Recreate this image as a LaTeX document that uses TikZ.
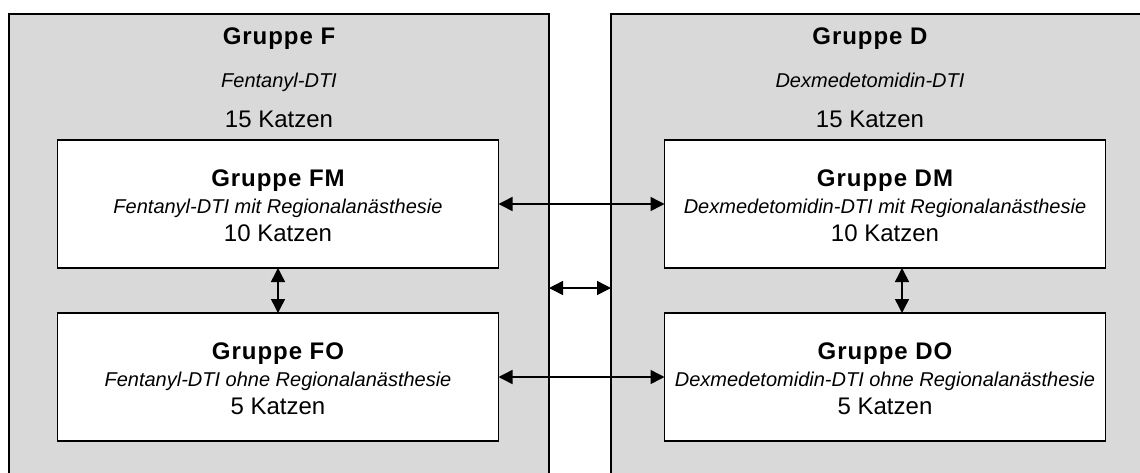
\documentclass[tikz,border=0pt]{standalone}
\usepackage{fontspec}
\setmainfont{Liberation Sans}
\usetikzlibrary{arrows.meta}
\definecolor{boxgray}{HTML}{D9D9D9}

\begin{document}
\begin{tikzpicture}[x=1pt, y=-1pt,
every node/.style={inner sep=0pt, outer sep=0pt},
gruppe/.style={draw=black, line width=1.6pt, fill=boxgray,
    minimum width=540pt, minimum height=466pt},
teil/.style={draw=black, line width=1.6pt, fill=white,
    minimum width=441pt, minimum height=128pt},
titel/.style={anchor=base,
    font=\fontsize{24}{27}\selectfont\bfseries\addfontfeatures{LetterSpace=4}},
info/.style={anchor=base, font=\fontsize{20}{23}\selectfont\itshape},
anzahl/.style={anchor=base, font=\fontsize{24}{28}\selectfont},
pfeil/.style={{Triangle[length=14pt,width=14pt]}-{Triangle[length=14pt,width=14pt]},
    line width=1.5pt}
]
\clip (0,0) rectangle (1140,472);
\fill[white] (0,0) rectangle (1140,472);

% outer groups
\node[gruppe] (gF) at (279,247) {};
\node[gruppe] (gD) at (881,247) {};
\coordinate (gFtxt) at (279,14);
\coordinate (gDtxt) at (870,14);

\node[titel]  (gFname) at ([yshift=-30pt]gFtxt) {Gruppe F};
\node[info]   (gFinfo) at ([yshift=-73pt]gFtxt) {Fentanyl-DTI};
\node[anzahl] (gFzahl) at ([yshift=-113pt]gFtxt) {15 Katzen};

\node[titel]  (gDname) at ([yshift=-30pt]gDtxt) {Gruppe D};
\node[info]   (gDinfo) at ([yshift=-73pt]gDtxt) {Dexmedetomidin-DTI};
\node[anzahl] (gDzahl) at ([yshift=-113pt]gDtxt) {15 Katzen};

% sub groups
\node[teil] (fm) at (278,204) {};
\node[teil] (fo) at (278,377) {};
\node[teil] (dm) at (885,204) {};
\node[teil] (do) at (885,377) {};

\node[titel]  (fmname) at ([yshift=-46pt]fm.north) {Gruppe FM};
\node[info]   (fminfo) at ([yshift=-73pt]fm.north) {Fentanyl-DTI mit Regionalanästhesie};
\node[anzahl] (fmzahl) at ([yshift=-101pt]fm.north) {10 Katzen};

\node[titel]  (foname) at ([yshift=-46pt]fo.north) {Gruppe FO};
\node[info]   (foinfo) at ([yshift=-73pt]fo.north) {Fentanyl-DTI ohne Regionalanästhesie};
\node[anzahl] (fozahl) at ([yshift=-101pt]fo.north) {5 Katzen};

\node[titel]  (dmname) at ([yshift=-46pt]dm.north) {Gruppe DM};
\node[info]   (dminfo) at ([yshift=-73pt]dm.north) {Dexmedetomidin-DTI mit Regionalanästhesie};
\node[anzahl] (dmzahl) at ([yshift=-101pt]dm.north) {10 Katzen};

\node[titel]  (doname) at ([yshift=-46pt]do.north) {Gruppe DO};
\node[info]   (doinfo) at ([yshift=-73pt]do.north) {Dexmedetomidin-DTI ohne Regionalanästhesie};
\node[anzahl] (dozahl) at ([yshift=-101pt]do.north) {5 Katzen};

% arrows
\coordinate (mitte) at (580,288);
\foreach \i/\j in {fm.east/dm.west, fo.east/do.west, fm.south/fo.north}
    \draw[pfeil] (\i) -- (\j);
\draw[pfeil] ([xshift=17pt]dm.south) -- ([xshift=17pt]do.north);
\draw[pfeil] (gF.east |- mitte) -- (gD.west |- mitte);

\end{tikzpicture}
\end{document}
